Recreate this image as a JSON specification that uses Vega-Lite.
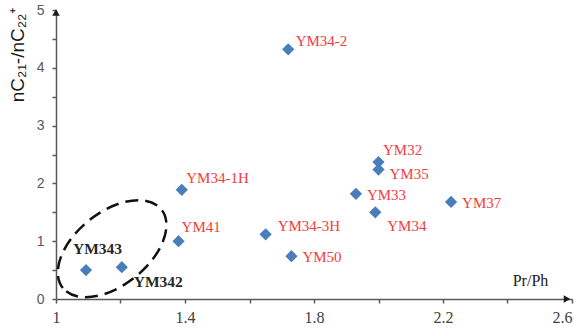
{
  "$schema": "https://vega.github.io/schema/vega-lite/v6.json",
  "width": 516,
  "height": 289,
  "autosize": {"type": "none"},
  "padding": {"left": 56, "top": 10, "right": 2, "bottom": 30},
  "background": "white",
  "config": {"view": {"stroke": null}},
  "datasets": {
    "samples": [
      {"sample": "YM34-2", "pr_ph": 1.72, "c21_c22": 4.32},
      {"sample": "YM32", "pr_ph": 2.0, "c21_c22": 2.37},
      {"sample": "YM35", "pr_ph": 2.0, "c21_c22": 2.24},
      {"sample": "YM34-1H", "pr_ph": 1.39, "c21_c22": 1.89},
      {"sample": "YM33", "pr_ph": 1.93, "c21_c22": 1.82},
      {"sample": "YM37", "pr_ph": 2.225, "c21_c22": 1.68},
      {"sample": "YM34", "pr_ph": 1.99, "c21_c22": 1.5},
      {"sample": "YM41", "pr_ph": 1.38, "c21_c22": 1.0},
      {"sample": "YM34-3H", "pr_ph": 1.65, "c21_c22": 1.12},
      {"sample": "YM50", "pr_ph": 1.73, "c21_c22": 0.74},
      {"sample": "YM343", "pr_ph": 1.093, "c21_c22": 0.5},
      {"sample": "YM342", "pr_ph": 1.204, "c21_c22": 0.55}
    ],
    "cluster": [{"pr_ph": 1.174, "c21_c22": 0.87}],
    "axis_ends": [
      {"end": "y", "pr_ph": 1.0, "c21_c22": 5.0},
      {"end": "x", "pr_ph": 2.6, "c21_c22": 0.0}
    ]
  },
  "encoding": {
    "x": {
      "field": "pr_ph",
      "type": "quantitative",
      "scale": {"domain": [1, 2.6], "nice": false, "zero": false},
      "axis": {
        "values": [1, 1.2, 1.4, 1.6, 1.8, 2.0, 2.2, 2.4, 2.6],
        "format": "~g",
        "labelExpr": "round(datum.value * 10) % 4 == 2 ? datum.label : ''",
        "labelAlign": {"condition": {"test": "datum.value >= 2.59", "value": "right"}, "value": "center"},
        "grid": false,
        "domainColor": "#595959",
        "domainWidth": 1.5,
        "tickColor": "#595959",
        "tickWidth": 1.5,
        "tickSize": 4,
        "labelFont": "Liberation Serif",
        "labelFontSize": 16,
        "labelColor": "#404040",
        "labelPadding": 6,
        "labelFlush": false,
        "labelOverlap": false,
        "title": "Pr/Ph",
        "titleFont": "Liberation Serif",
        "titleFontSize": 16,
        "titleFontWeight": "normal",
        "titleColor": "#1a1a1a",
        "titleAnchor": null,
        "titleAlign": "center",
        "titleBaseline": "middle",
        "titleX": 474,
        "titleY": -19
      }
    },
    "y": {
      "field": "c21_c22",
      "type": "quantitative",
      "scale": {"domain": [0, 5], "nice": false},
      "axis": {
        "values": [0, 0.5, 1, 1.5, 2, 2.5, 3, 3.5, 4, 4.5, 5],
        "format": "~g",
        "labelExpr": "datum.value % 1 == 0 ? datum.label : ''",
        "grid": false,
        "domainColor": "#595959",
        "domainWidth": 1.5,
        "tickColor": "#595959",
        "tickWidth": 1.5,
        "tickSize": 4,
        "labelFont": "Liberation Sans",
        "labelFontSize": 14,
        "labelColor": "#595959",
        "labelPadding": 8,
        "labelFlush": false,
        "title": "nC₂₁-/nC₂₂⁺",
        "titleFont": "Liberation Sans",
        "titleFontSize": 19,
        "titleFontWeight": "normal",
        "titleColor": "#1a1a1a",
        "titleAnchor": null,
        "titleAngle": -90,
        "titleAlign": "right",
        "titleBaseline": "middle",
        "titleX": -39,
        "titleY": -3
      }
    }
  },
  "layer": [
    {
      "data": {"name": "cluster"},
      "mark": {
        "type": "point",
        "shape": "M-1,0A1,0.58,0,1,1,1,0A1,0.58,0,1,1,-1,0Z",
        "size": 15876,
        "angle": -38.5,
        "filled": false,
        "stroke": "#111111",
        "strokeWidth": 2.5,
        "strokeDash": [13, 7],
        "opacity": 1
      }
    },
    {
      "data": {"name": "axis_ends"},
      "transform": [{"filter": "datum.end === 'y'"}],
      "mark": {"type": "point", "shape": "triangle-up", "size": 56, "filled": true, "color": "#1a1a1a", "opacity": 1, "yOffset": 2.5}
    },
    {
      "data": {"name": "axis_ends"},
      "transform": [{"filter": "datum.end === 'x'"}],
      "mark": {"type": "point", "shape": "triangle-right", "size": 56, "filled": true, "color": "#1a1a1a", "opacity": 1, "xOffset": -5}
    },
    {
      "data": {"name": "samples"},
      "mark": {"type": "point", "shape": "diamond", "size": 150, "filled": true, "color": "#4a7ebb", "opacity": 1}
    },
    {
      "data": {"name": "samples"},
      "transform": [{"filter": {"field": "sample", "oneOf": ["YM33", "YM37", "YM50"]}}],
      "mark": {"type": "text", "align": "left", "baseline": "middle", "dx": 11, "dy": 1, "font": "Liberation Serif", "fontSize": 15, "color": "#f53b3b"},
      "encoding": {"text": {"field": "sample"}}
    },
    {
      "data": {"name": "samples"},
      "transform": [{"filter": {"field": "sample", "oneOf": ["YM32", "YM34-1H"]}}],
      "mark": {"type": "text", "align": "left", "baseline": "middle", "dx": 4.5, "dy": -12, "font": "Liberation Serif", "fontSize": 15, "color": "#f53b3b"},
      "encoding": {"text": {"field": "sample"}}
    },
    {
      "data": {"name": "samples"},
      "transform": [{"filter": {"field": "sample", "oneOf": ["YM41"]}}],
      "mark": {"type": "text", "align": "left", "baseline": "middle", "dx": 3, "dy": -14, "font": "Liberation Serif", "fontSize": 15, "color": "#f53b3b"},
      "encoding": {"text": {"field": "sample"}}
    },
    {
      "data": {"name": "samples"},
      "transform": [{"filter": {"field": "sample", "oneOf": ["YM34-2"]}}],
      "mark": {"type": "text", "align": "left", "baseline": "middle", "dx": 7.5, "dy": -8, "font": "Liberation Serif", "fontSize": 15, "color": "#f53b3b"},
      "encoding": {"text": {"field": "sample"}}
    },
    {
      "data": {"name": "samples"},
      "transform": [{"filter": {"field": "sample", "oneOf": ["YM34-3H"]}}],
      "mark": {"type": "text", "align": "left", "baseline": "middle", "dx": 12, "dy": -8, "font": "Liberation Serif", "fontSize": 15, "color": "#f53b3b"},
      "encoding": {"text": {"field": "sample"}}
    },
    {
      "data": {"name": "samples"},
      "transform": [{"filter": {"field": "sample", "oneOf": ["YM35"]}}],
      "mark": {"type": "text", "align": "left", "baseline": "middle", "dx": 11, "dy": 4.5, "font": "Liberation Serif", "fontSize": 15, "color": "#f53b3b"},
      "encoding": {"text": {"field": "sample"}}
    },
    {
      "data": {"name": "samples"},
      "transform": [{"filter": {"field": "sample", "oneOf": ["YM34"]}}],
      "mark": {"type": "text", "align": "left", "baseline": "middle", "dx": 12, "dy": 14, "font": "Liberation Serif", "fontSize": 15, "color": "#f53b3b"},
      "encoding": {"text": {"field": "sample"}}
    },
    {
      "data": {"name": "samples"},
      "transform": [{"filter": {"field": "sample", "oneOf": ["YM342"]}}],
      "mark": {"type": "text", "align": "left", "baseline": "middle", "dx": 12, "dy": 15, "font": "Liberation Serif", "fontSize": 15.5, "fontWeight": "bold", "color": "#262626"},
      "encoding": {"text": {"field": "sample"}}
    },
    {
      "data": {"name": "samples"},
      "transform": [{"filter": {"field": "sample", "oneOf": ["YM343"]}}],
      "mark": {"type": "text", "align": "left", "baseline": "middle", "dx": -13, "dy": -21, "font": "Liberation Serif", "fontSize": 15.5, "fontWeight": "bold", "color": "#262626"},
      "encoding": {"text": {"field": "sample"}}
    }
  ]
}
